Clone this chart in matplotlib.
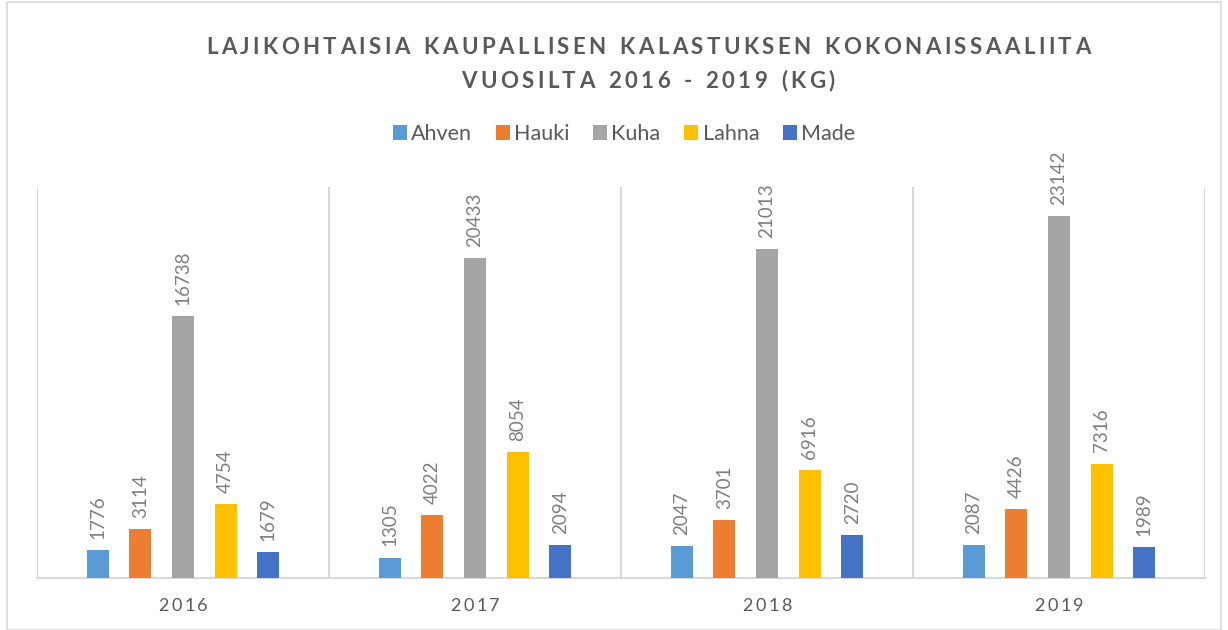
import matplotlib
matplotlib.use("Agg")
import matplotlib.pyplot as plt
import numpy as np
from matplotlib.patches import Rectangle

years = ["2016", "2017", "2018", "2019"]
species = ["Ahven", "Hauki", "Kuha", "Lahna", "Made"]
ahven = [1776, 1305, 2047, 2087]
hauki = [3114, 4022, 3701, 4426]
kuha = [16738, 20433, 21013, 23142]
lahna = [4754, 8054, 6916, 7316]
made = [1679, 2094, 2720, 1989]
series = [ahven, hauki, kuha, lahna, made]
colors = ["#5B9BD5", "#ED7D31", "#A5A5A5", "#FFC000", "#4472C4"]
title_lines = ["LAJIKOHTAISIA KAUPALLISEN KALASTUKSEN KOKONAISSAALIITA",
               "VUOSILTA 2016 - 2019 (KG)"]

FONT = "Lato"
W, H = 1228, 630
fig = plt.figure(figsize=(W/100, H/100), dpi=100)
fig.patch.set_facecolor("white")

ax = fig.add_axes([37/W, 1-578/H, (1205-37)/W, (578-187)/H])
x = np.arange(len(years))
step = 0.146
bw = 0.076
for i, (vals, c, name) in enumerate(zip(series, colors, species)):
    pos = x + (i-2)*step
    ax.bar(pos, vals, bw, color=c, label=name, zorder=3)
    for p, v in zip(pos, vals):
        ax.annotate(str(v), (p, v), xytext=(0, 8), textcoords="offset points",
                    rotation=90, ha="center", va="bottom", fontsize=13.5,
                    color="#7F7F7F", family=FONT)

ax.set_xlim(-0.5, len(years)-0.5)
ax.set_ylim(0, 25000)
for s in ["top", "right", "left"]:
    ax.spines[s].set_visible(False)
ax.spines["bottom"].set_color("#D9D9D9")
ax.spines["bottom"].set_linewidth(1.5)
ax.set_yticks([])
ax.set_xticks(np.arange(len(years)+1)-0.5, minor=True)
ax.grid(True, which="minor", axis="x", color="#D9D9D9", lw=1.5, zorder=0)
ax.tick_params(which="both", length=0)
ax.set_xticks(x)
ax.set_xticklabels([])

fig.canvas.draw()
renderer = fig.canvas.get_renderer()

def spaced_text(s, cx, cy, size, color, weight="normal", track=0.0):
    # draw text with letter spacing, centered at (cx, cy) figure pixels
    widths = []
    for ch in s:
        t = fig.text(0, 0, ch if ch != " " else "n", fontsize=size, family=FONT, weight=weight)
        bb = t.get_window_extent(renderer)
        w = bb.width if ch != " " else bb.width*0.55
        widths.append(w)
        t.remove()
    total = sum(widths) + track*(len(s)-1)
    xpos = cx - total/2
    for ch, w in zip(s, widths):
        if ch != " ":
            fig.text(xpos/W, 1-cy/H, ch, fontsize=size, family=FONT, weight=weight,
                     color=color, ha="left", va="center")
        xpos += w + track

spaced_text(title_lines[0], 648, 48, 16, "#595959", "bold", 3.4)
spaced_text(title_lines[1], 648, 81, 16, "#595959", "bold", 3.4)

for i, y in enumerate(years):
    xc = 37 + (i+0.5)*(1205-37)/4
    spaced_text(y, xc, 606, 13, "#595959", "normal", 2.5)

fig.legend(loc="center", bbox_to_anchor=(624/W, 1-134/H), ncol=5, frameon=False,
           prop={"family": FONT, "size": 15.5}, handlelength=0.65, handleheight=0.65,
           handletextpad=0.2, columnspacing=1.1, labelcolor="#595959")

fig.patches.append(Rectangle((7/W, 0), (W-14)/W, (H-2)/H, transform=fig.transFigure,
                             fill=False, edgecolor="#D9D9D9", lw=1.2))
fig.savefig("out.png", dpi=100, facecolor="white")
